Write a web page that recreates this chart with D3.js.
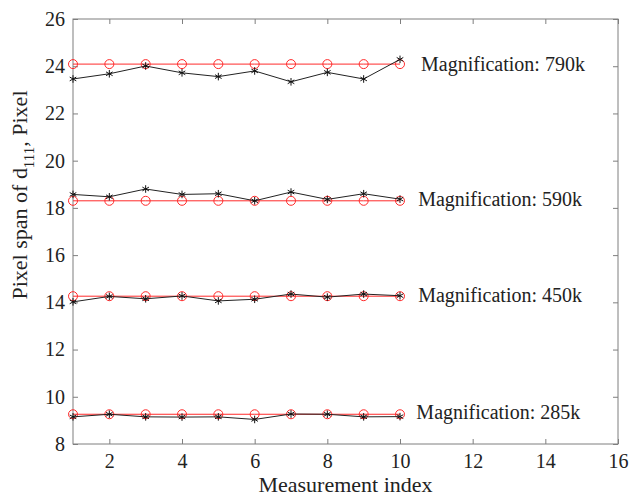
<!DOCTYPE html>
<html>
<head>
<meta charset="utf-8">
<script src="https://cdn.jsdelivr.net/npm/d3@7"></script>
<style>
  body { margin: 0; background: #fff; }
</style>
</head>
<body>
<div id="chart"></div>
<script>
var index = [1, 2, 3, 4, 5, 6, 7, 8, 9, 10];

// measured pixel spans (black asterisks)
var meas790 = [23.46, 23.68, 24.01, 23.72, 23.56, 23.80, 23.34, 23.74, 23.46, 24.29];
var meas590 = [18.57, 18.47, 18.80, 18.57, 18.60, 18.30, 18.67, 18.36, 18.60, 18.37];
var meas450 = [14.02, 14.25, 14.15, 14.27, 14.06, 14.13, 14.35, 14.22, 14.35, 14.28];
var meas285 = [9.15, 9.26, 9.15, 9.14, 9.15, 9.04, 9.27, 9.26, 9.15, 9.16];

// reference values (red circles)
var ref790 = [24.09, 24.09, 24.09, 24.09, 24.09, 24.09, 24.09, 24.09, 24.09, 24.09];
var ref590 = [18.30, 18.30, 18.30, 18.30, 18.30, 18.30, 18.30, 18.30, 18.30, 18.30];
var ref450 = [14.26, 14.26, 14.26, 14.26, 14.26, 14.26, 14.26, 14.26, 14.26, 14.26];
var ref285 = [9.26, 9.26, 9.26, 9.26, 9.26, 9.26, 9.26, 9.26, 9.26, 9.26];

var labels = ["Magnification: 790k", "Magnification: 590k", "Magnification: 450k", "Magnification: 285k"];
var labelX = [10.58, 10.5, 10.5, 10.45];
var labelY = [23.8, 18.08, 14.0, 9.05];

var xTicks = [2, 4, 6, 8, 10, 12, 14, 16];
var yTicks = [8, 10, 12, 14, 16, 18, 20, 22, 24, 26];

var margin = { top: 19, right: 11, bottom: 56, left: 73 };
var W = 629, H = 500;
var width = W - margin.left - margin.right;
var height = H - margin.top - margin.bottom;
var serif = "Liberation Serif";

var svg = d3.select("#chart").append("svg")
    .attr("width", W)
    .attr("height", H)
    .attr("font-family", serif);
var g = svg.append("g")
    .attr("transform", "translate(" + margin.left + "," + margin.top + ")");

var x = d3.scaleLinear().domain([1, 16]).range([0, width]);
var y = d3.scaleLinear().domain([8, 26]).range([height, 0]);

var axisColor = "#7f7f7f";

function styleAxis(a) {
    a.attr("font-family", serif).attr("font-size", 20);
    a.select(".domain").remove();
    a.selectAll("line").attr("stroke", axisColor);
    a.selectAll("text").attr("fill", "#222").attr("font-family", serif);
}

// axes with inward ticks
g.append("g")
    .attr("transform", "translate(0," + height + ")")
    .call(d3.axisBottom(x).tickValues(xTicks).tickSizeInner(-5).tickSizeOuter(0).tickPadding(10))
    .call(styleAxis);
g.append("g")
    .call(d3.axisTop(x).tickValues(xTicks).tickSizeInner(-5).tickSizeOuter(0).tickFormat(""))
    .call(styleAxis);
g.append("g")
    .call(d3.axisLeft(y).tickValues(yTicks).tickSizeInner(-5).tickSizeOuter(0).tickPadding(8))
    .call(styleAxis);
g.append("g")
    .attr("transform", "translate(" + width + ",0)")
    .call(d3.axisRight(y).tickValues(yTicks).tickSizeInner(-5).tickSizeOuter(0).tickFormat(""))
    .call(styleAxis);

g.append("rect")
    .attr("width", width)
    .attr("height", height)
    .attr("fill", "none")
    .attr("stroke", axisColor)
    .attr("stroke-width", 1);

var line = d3.line()
    .x(function (d) { return x(d[0]); })
    .y(function (d) { return y(d[1]); });

function pairs(vals) {
    return index.map(function (v, i) { return [v, vals[i]]; });
}

var refs = [ref790, ref590, ref450, ref285];
var meas = [meas790, meas590, meas450, meas285];

var star = d3.symbol().type(d3.symbolAsterisk).size(40);

refs.forEach(function (vals, k) {
    var pts = pairs(vals);
    g.append("path")
        .attr("d", line(pts))
        .attr("fill", "none")
        .attr("stroke", "#ff2a2a")
        .attr("stroke-width", 1);
    g.selectAll(".circ" + k)
        .data(pts)
        .enter().append("circle")
        .attr("cx", function (d) { return x(d[0]); })
        .attr("cy", function (d) { return y(d[1]); })
        .attr("r", 4.5)
        .attr("fill", "none")
        .attr("stroke", "#ff2a2a")
        .attr("stroke-width", 1);
});

meas.forEach(function (vals, k) {
    var pts = pairs(vals);
    g.append("path")
        .attr("d", line(pts))
        .attr("fill", "none")
        .attr("stroke", "#222")
        .attr("stroke-width", 1);
    g.selectAll(".star" + k)
        .data(pts)
        .enter().append("path")
        .attr("transform", function (d) { return "translate(" + x(d[0]) + "," + y(d[1]) + ")"; })
        .attr("d", star)
        .attr("fill", "none")
        .attr("stroke", "#111")
        .attr("stroke-width", 1);
});

labels.forEach(function (t, k) {
    g.append("text")
        .attr("x", x(labelX[k]))
        .attr("y", y(labelY[k]))
        .attr("font-size", 20)
        .attr("fill", "#222")
        .text(t);
});

// axis titles
svg.append("text")
    .attr("x", margin.left + width / 2)
    .attr("y", 492)
    .attr("text-anchor", "middle")
    .attr("font-size", 22)
    .attr("fill", "#222")
    .text("Measurement index");

var yl = svg.append("text")
    .attr("transform", "translate(27," + 195 + ") rotate(-90)")
    .attr("text-anchor", "middle")
    .attr("font-size", 22)
    .attr("fill", "#222");
yl.append("tspan").text("Pixel span of d");
yl.append("tspan").attr("dy", 7).attr("font-size", 15).text("111");
yl.append("tspan").attr("dy", -7).text(", Pixel");
</script>
</body>
</html>
